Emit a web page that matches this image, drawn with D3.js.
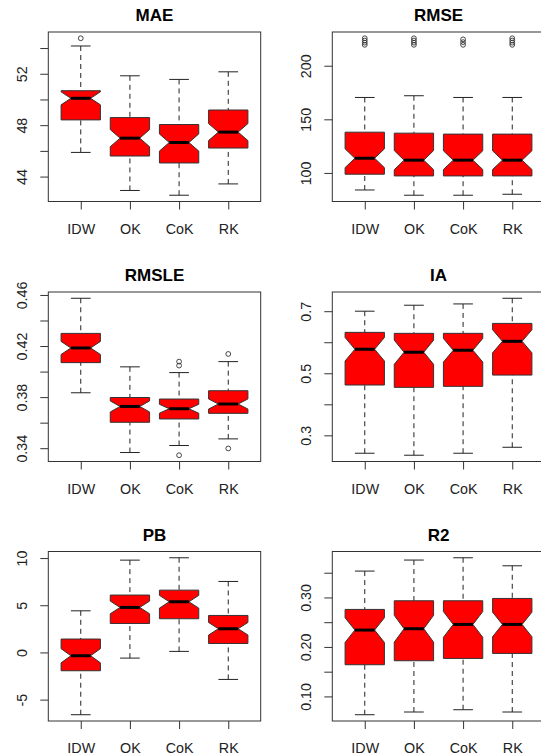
<!DOCTYPE html>
<html>
<head>
<meta charset="utf-8">
<script src="https://cdn.jsdelivr.net/npm/d3@7"></script>
<style>
  body { margin: 0; background: #fff; }
  svg { display: block; }
  text { font-family: Arial, "Liberation Sans", Helvetica, sans-serif; }
</style>
</head>
<body>
<svg id="chart" width="541" height="755"></svg>
<script>
// Interpolation methods compared in every panel
const methods = ["IDW", "OK", "CoK", "RK"];

// Five-number summaries per method: [lower whisker, Q1, median, Q3, upper whisker]
const maeStats = [
  [45.88, 48.41, 50.09, 50.68, 54.16],
  [42.92, 45.60, 46.99, 48.59, 51.84],
  [42.55, 45.06, 46.65, 48.05, 51.56],
  [43.43, 46.22, 47.46, 49.18, 52.15]
];
const maeOutliers = [[54.76], [], [], []];
const maeTicks = [44, 46, 48, 50, 52, 54];
const maeTickLabels = ["44", "", "48", "", "52", ""];

const rmseStats = [
  [84.1, 98.8, 113.7, 138.0, 170.4],
  [79.2, 97.2, 111.9, 137.1, 172.0],
  [79.2, 97.2, 111.9, 136.2, 170.4],
  [80.1, 97.2, 111.9, 136.2, 170.4]
];
const rmseOutliers = [
  [219.5, 221.5, 223.5, 225.6],
  [219.5, 221.5, 223.5, 225.6],
  [219.5, 222.0, 224.6],
  [219.5, 221.5, 223.5, 225.6]
];
const rmseTicks = [100, 150, 200];
const rmseTickLabels = ["100", "150", "200"];

const rmsleStats = [
  [0.3834, 0.4070, 0.4185, 0.4299, 0.4574],
  [0.3366, 0.3603, 0.3727, 0.3797, 0.4037],
  [0.3421, 0.3629, 0.3709, 0.3785, 0.3992],
  [0.3473, 0.3673, 0.3746, 0.3850, 0.4078]
];
const rmsleOutliers = [[], [], [0.4047, 0.4078, 0.3345], [0.4138, 0.3398]];
const rmsleTicks = [0.34, 0.36, 0.38, 0.40, 0.42, 0.44, 0.46];
const rmsleTickLabels = ["0.34", "", "0.38", "", "0.42", "", "0.46"];

const iaStats = [
  [0.2424, 0.4622, 0.5774, 0.6318, 0.7000],
  [0.2360, 0.4546, 0.5678, 0.6286, 0.7192],
  [0.2424, 0.4578, 0.5742, 0.6286, 0.7234],
  [0.2616, 0.4942, 0.6030, 0.6606, 0.7416]
];
const iaOutliers = [[], [], [], []];
const iaTicks = [0.3, 0.4, 0.5, 0.6, 0.7];
const iaTickLabels = ["0.3", "", "0.5", "", "0.7"];

const pbStats = [
  [-6.60, -1.94, -0.35, 1.42, 4.41],
  [-0.60, 3.07, 4.77, 6.08, 9.78],
  [0.11, 3.57, 5.37, 6.60, 10.03],
  [-2.86, 0.95, 2.51, 3.92, 7.52]
];
const pbOutliers = [[], [], [], []];
const pbTicks = [-5, 0, 5, 10];
const pbTickLabels = ["-5", "0", "5", "10"];

const r2Stats = [
  [0.0630, 0.1640, 0.2341, 0.2758, 0.3533],
  [0.0685, 0.1721, 0.2368, 0.2933, 0.3756],
  [0.0731, 0.1768, 0.2455, 0.2933, 0.3802],
  [0.0685, 0.1869, 0.2455, 0.2980, 0.3640]
];
const r2Outliers = [[], [], [], []];
const r2Ticks = [0.10, 0.15, 0.20, 0.25, 0.30, 0.35];
const r2TickLabels = ["0.10", "", "0.20", "", "0.30", ""];

// Observations behind each box; sets the notch half-height 1.58*IQR/sqrt(n)
const sampleSize = 50;

const panels = [
  { title: "MAE",   stats: maeStats,   outliers: maeOutliers,   ticks: maeTicks,   labels: maeTickLabels,   col: 0, row: 0 },
  { title: "RMSE",  stats: rmseStats,  outliers: rmseOutliers,  ticks: rmseTicks,  labels: rmseTickLabels,  col: 1, row: 0 },
  { title: "RMSLE", stats: rmsleStats, outliers: rmsleOutliers, ticks: rmsleTicks, labels: rmsleTickLabels, col: 0, row: 1 },
  { title: "IA",    stats: iaStats,    outliers: iaOutliers,    ticks: iaTicks,    labels: iaTickLabels,    col: 1, row: 1 },
  { title: "PB",    stats: pbStats,    outliers: pbOutliers,    ticks: pbTicks,    labels: pbTickLabels,    col: 0, row: 2 },
  { title: "R2",    stats: r2Stats,    outliers: r2Outliers,    ticks: r2Ticks,    labels: r2TickLabels,    col: 1, row: 2 }
];

// Plot-region geometry
const colLeft = [48.3, 332.3];
const rowTop = [32, 292, 551.5];
const plotW = 212.4;
const plotH = 169.5;
const boxHalf = 0.4;      // half of box width, in x units
const notchFrac = 0.5;    // median/notch width relative to box
const stapleFrac = 0.5;   // whisker cap width relative to box
const ink = "#333";

const svg = d3.select("#chart");

panels.forEach(p => {
  const left = colLeft[p.col];
  const top = rowTop[p.row];
  const bottom = top + plotH;
  const g = svg.append("g");

  // x: positions 1..4 with a 4% pad beyond [0.5, 4.5]
  const x = d3.scaleLinear().domain([0.34, 4.66]).range([left, left + plotW]);

  // y: data range (whiskers + outliers) with a 4% pad
  const all = p.stats.flat().concat(p.outliers.flat());
  const lo = d3.min(all), hi = d3.max(all), pad = (hi - lo) * 0.04;
  const y = d3.scaleLinear().domain([lo - pad, hi + pad]).range([bottom, top]);

  // Boxes
  p.stats.forEach((s, i) => {
    const [wLo, q1, med, q3, wHi] = s;
    const cx = i + 1;
    const notch = 1.58 * (q3 - q1) / Math.sqrt(sampleSize);
    const c1 = med - notch, c2 = med + notch;

    // dashed whiskers, drawn from the whisker end toward the box
    [[wHi, q3], [wLo, q1]].forEach(([a, b]) => {
      g.append("line")
        .attr("x1", x(cx)).attr("x2", x(cx))
        .attr("y1", y(a)).attr("y2", y(b))
        .attr("stroke", "#222").attr("stroke-width", 1)
        .attr("stroke-dasharray", "5,4");
    });
    // staples
    [wHi, wLo].forEach(v => {
      g.append("line")
        .attr("x1", x(cx - boxHalf * stapleFrac)).attr("x2", x(cx + boxHalf * stapleFrac))
        .attr("y1", y(v)).attr("y2", y(v))
        .attr("stroke", "#222").attr("stroke-width", 1);
    });

    // notched box outline
    const shape = [
      [-1, q1], [1, q1], [1, c1], [notchFrac, med], [1, c2],
      [1, q3], [-1, q3], [-1, c2], [-notchFrac, med], [-1, c1]
    ];
    const line = d3.line()
      .x(d => x(cx + d[0] * boxHalf))
      .y(d => y(d[1]))
      .curve(d3.curveLinearClosed);
    g.append("path")
      .attr("d", line(shape))
      .attr("fill", "#ff0000")
      .attr("stroke", ink)
      .attr("stroke-width", 1)
      .attr("stroke-linejoin", "miter");

    // median
    g.append("line")
      .attr("x1", x(cx - boxHalf * notchFrac)).attr("x2", x(cx + boxHalf * notchFrac))
      .attr("y1", y(med)).attr("y2", y(med))
      .attr("stroke", "#000").attr("stroke-width", 3);

    // outliers
    p.outliers[i].forEach(v => {
      g.append("circle")
        .attr("cx", x(cx)).attr("cy", y(v)).attr("r", 2.4)
        .attr("fill", "none").attr("stroke", ink).attr("stroke-width", 0.9);
    });
  });

  // Frame
  g.append("rect")
    .attr("x", left).attr("y", top)
    .attr("width", plotW).attr("height", plotH)
    .attr("fill", "none").attr("stroke", ink).attr("stroke-width", 1);

  // x axis: ticks below the frame and method names
  const xAxis = d3.axisBottom(x)
    .tickValues([1, 2, 3, 4])
    .tickFormat((d, i) => methods[i])
    .tickSize(8).tickPadding(14);
  const gx = g.append("g").attr("transform", `translate(0,${bottom})`).call(xAxis);
  gx.select(".domain").remove();
  gx.selectAll(".tick line").attr("stroke", ink);
  gx.selectAll(".tick text")
    .attr("fill", "#222").attr("font-size", "14.3px")
    .attr("font-family", "Arial, 'Liberation Sans', sans-serif");

  // y axis: ticks left of the frame, rotated labels
  const yAxis = d3.axisLeft(y)
    .tickValues(p.ticks)
    .tickFormat((d, i) => p.labels[i])
    .tickSize(8);
  const gy = g.append("g").attr("transform", `translate(${left},0)`).call(yAxis);
  gy.select(".domain").remove();
  gy.selectAll(".tick line").attr("stroke", ink);
  gy.selectAll(".tick text")
    .attr("x", null).attr("dy", null)
    .attr("transform", "translate(-21,0) rotate(-90)")
    .attr("text-anchor", "middle")
    .attr("fill", "#222").attr("font-size", "14.3px")
    .attr("font-family", "Arial, 'Liberation Sans', sans-serif");

  // Title
  g.append("text")
    .attr("x", left + plotW / 2).attr("y", top - 11)
    .attr("text-anchor", "middle")
    .attr("font-weight", "bold").attr("font-size", "17px")
    .attr("fill", "#000")
    .text(p.title);
});
</script>
</body>
</html>
